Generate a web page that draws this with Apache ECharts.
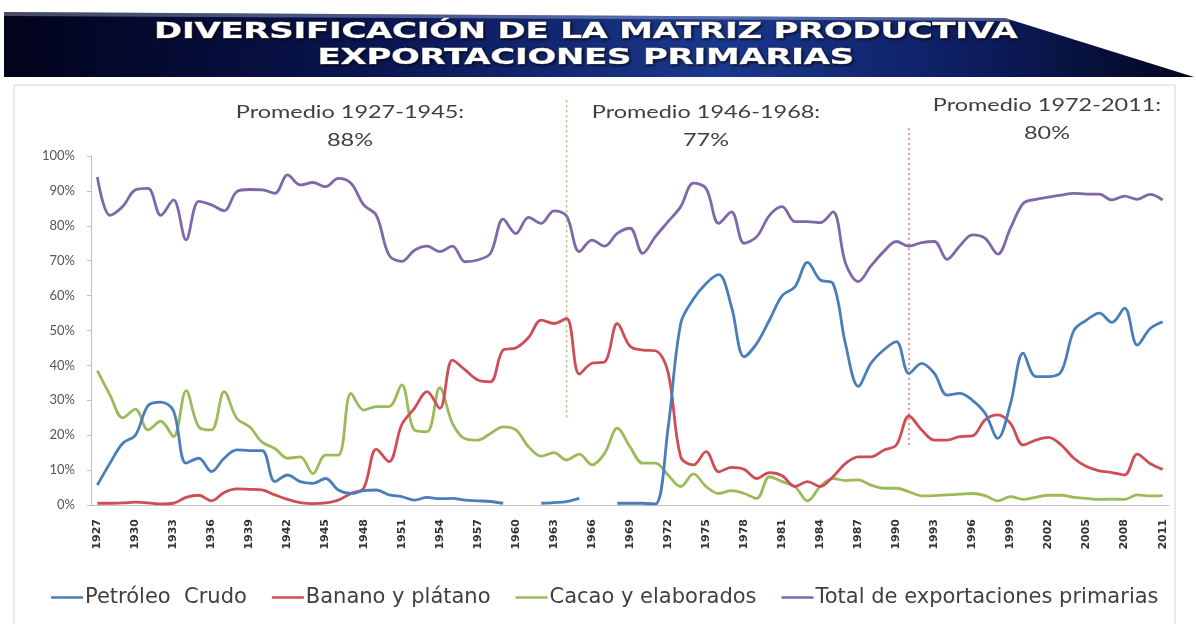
<!DOCTYPE html>
<html>
<head>
<meta charset="utf-8">
<title>Diversificación de la matriz productiva</title>
<script src="https://cdn.jsdelivr.net/npm/echarts@6/dist/echarts.min.js"></script>
<style>
  html, body { margin: 0; padding: 0; background: #fff; }
  #chart { width: 1196px; height: 624px; }
</style>
</head>
<body>
<div id="chart"></div>
<script>
// años (eje de categorías)
const years = [
  '1927','1928','1929','1930','1931','1932','1933','1934','1935','1936','1937','1938','1939','1940',
  '1941','1942','1943','1944','1945','1946','1947','1948','1949','1950','1951','1952','1953','1954',
  '1955','1956','1957','1958','1959','1960','1961','1962','1963','1964','1965','1966','1967','1968',
  '1969','1970','1971','1972','1973','1974','1975','1976','1977','1978','1979','1980','1981','1982',
  '1983','1984','1985','1986','1987','1988','1989','1990','1991','1992','1993','1994','1995','1996',
  '1997','1998','1999','2000','2001','2002','2003','2004','2005','2006','2007','2008','2009','2010','2011'
];

// % de las exportaciones totales
const petroleo = [
  5.7, 12, 17.7, 20, 28.5, 29.5, 27, 12, 13.4, 9.6, 13.4, 15.8, 15.6, 15.6,
  6.7, 8.6, 6.7, 6.2, 7.6, 4.3, 3.3, 4.1, 4.3, 2.9, 2.4, 1.4, 2.2, 1.8,
  1.9, 1.4, 1.2, 1.0, 0.5, null, null, 0.5, 0.7, 1.0, 1.9, null, null, 0.5,
  0.5, 0.5, 0.3, 22, 52, 59, 63.5, 66, 56.8, 42.5, 46.3, 53, 60, 62.5,
  69.5, 64.5, 63.5, 46, 34, 40.6, 44.4, 46.8, 37.7, 40.6, 37.7, 31.5, 32, 30,
  26.3, 19.1, 29, 43.5, 36.8, 36.8, 38.2, 50, 53, 55, 52.3, 56.4, 45.8, 50.5, 52.5
];
const banano = [
  0.5, 0.5, 0.6, 0.8, 0.6, 0.3, 0.5, 2.2, 2.8, 1.2, 3.6, 4.6, 4.5, 4.3,
  2.9, 1.6, 0.7, 0.4, 0.6, 1.4, 3.3, 4.8, 16, 12.4, 23, 27.7, 32.5, 27.7,
  41.5, 38.7, 35.8, 35.3, 44.4, 45, 48, 53, 52, 53.5, 37.5, 40.6, 41, 52,
  45.5, 44.4, 44.2, 38, 13.8, 11.5, 15.3, 9.5, 10.8, 10.2, 7.6, 9.3, 8.4, 5.3,
  6.7, 5.3, 8.1, 11.9, 13.8, 13.8, 15.7, 17.2, 25.5, 21.5, 18.6, 18.6, 19.6, 19.8,
  24.4, 25.8, 23.4, 17.2, 18.6, 19.4, 17.2, 13.4, 11, 9.8, 9.3, 8.6, 14.6, 11.9, 10.2
];
const cacao = [
  38.5, 31.5, 25, 27.5, 21.5, 24, 19.6, 32.8, 22.4, 21.5, 32.5, 24.8, 22.4, 18,
  16.2, 13.4, 13.8, 9, 14.3, 14.3, 32, 27.2, 28.2, 28.2, 34.4, 21.5, 21, 33.6,
  23.4, 19, 18.6, 20.5, 22.4, 21.5, 16.7, 14, 15, 12.9, 14.6, 11.5, 14.8, 22,
  16.7, 12, 12, 8.6, 5.3, 8.9, 5.3, 3.3, 4.1, 3.3, 1.9, 8.1, 6.7, 5.3,
  1.2, 5.3, 7.6, 7, 7.2, 5.7, 4.8, 4.8, 3.8, 2.6, 2.7, 2.9, 3.1, 3.3,
  2.7, 1.2, 2.4, 1.6, 2.2, 2.8, 2.8, 2.2, 1.9, 1.6, 1.7, 1.6, 2.9, 2.6, 2.7
];
const totalPrimarias = [
  94, 83, 85.5, 90.3, 90.7, 83, 87.4, 76, 87, 86, 84.3, 89.8, 90.4, 90.3,
  89.3, 94.6, 91.7, 92.4, 91.2, 93.6, 92.2, 86, 83, 71.6, 69.8, 73, 74.2, 72.6,
  74.2, 69.7, 70.2, 72.1, 81.9, 77.8, 82.4, 80.7, 84.3, 82.8, 72.6, 75.9, 74.2, 77.8,
  79.3, 72.1, 76.9, 81.2, 85.5, 92.2, 90.7, 80.7, 84, 75, 76.9, 83, 85.5, 81.2,
  81.2, 80.9, 84, 69.2, 64, 68.5, 72.6, 75.5, 74.2, 75.2, 75.5, 70.4, 74.2, 77.4,
  76.4, 71.9, 79.3, 86.4, 87.6, 88.2, 88.8, 89.3, 89.1, 89.1, 87.4, 88.5, 87.6, 89, 87.4
];

// promedios por periodo y separadores
const periodos = ['Promedio 1927-1945:', 'Promedio 1946-1968:', 'Promedio 1972-2011:'];
const promedios = ['88%', '77%', '80%'];
const cortes = ['1964', '1991'];

const seriesNames = ['Petróleo  Crudo', 'Banano y plátano', 'Cacao y elaborados', 'Total de exportaciones primarias'];
const colors = ['#4a7ebb', '#cf4d55', '#9bbb59', '#7f68a8'];
const seriesData = [petroleo, banano, cacao, totalPrimarias];

const FONT = 'Lato, "Open Sans", sans-serif';
const WIDE = '"DejaVu Sans", sans-serif';

let chart = echarts.init(document.getElementById('chart'));

const option = {
  animation: false,
  backgroundColor: '#fff',
  color: colors,
  grid: { left: 91, right: 27, top: 156, bottom: 119 },
  xAxis: {
    type: 'category',
    data: years,
    boundaryGap: true,
    axisLine: { lineStyle: { color: '#bfbfbf', width: 1 } },
    axisTick: { interval: 0, length: 4, lineStyle: { color: '#bfbfbf' } },
    axisLabel: {
      interval: 2, rotate: 90, margin: 14,
      color: '#333', fontFamily: WIDE, fontSize: 11, fontWeight: 'bold'
    }
  },
  yAxis: {
    type: 'value',
    min: 0, max: 100, interval: 10,
    axisLine: { show: true, lineStyle: { color: '#bfbfbf' } },
    axisTick: { show: true, length: 4, lineStyle: { color: '#bfbfbf' } },
    splitLine: { show: false },
    axisLabel: { formatter: '{value}%', color: '#555', fontFamily: FONT, fontSize: 13, margin: 16 }
  },
  legend: {
    bottom: 11, left: 46,
    icon: 'rect', itemWidth: 32, itemHeight: 2.5, itemGap: 25,
    textStyle: { color: '#404040', fontFamily: WIDE, fontSize: 21, padding: [0, 0, 0, -3] },
    data: seriesNames
  },
  series: seriesNames.map((name, i) => ({
    name: name,
    type: 'line',
    data: seriesData[i],
    smooth: 0.35,
    symbol: 'none',
    connectNulls: false,
    lineStyle: { width: 2.8, color: colors[i] },
    z: 4 - i
  }))
};
chart.setOption(option);

// decoraciones: banner, textos de promedio y separadores punteados
function buildGraphics() {
  const g = [];
  // marco del área del gráfico
  g.push({
    type: 'rect', silent: true, z: -1,
    shape: { x: 14, y: 85, width: 1161, height: 560 },
    style: { fill: 'none', stroke: '#d4d4d4', lineWidth: 1 }
  });
  // banner del título
  g.push({
    type: 'polygon', silent: true, z: 1,
    shape: { points: [[4, 12], [1005, 18], [1194, 77], [4, 77]] },
    style: {
      fill: new echarts.graphic.LinearGradient(0, 0, 1, 0, [
        { offset: 0, color: '#01031a' },
        { offset: 0.3, color: '#0a1450' },
        { offset: 0.6, color: '#1a3890' },
        { offset: 0.82, color: '#0d1c5e' },
        { offset: 1, color: '#02061c' }
      ])
    }
  });
  g.push({
    type: 'polygon', silent: true, z: 2,
    shape: { points: [[4, 12], [1005, 18], [1012, 21], [4, 16]] },
    style: { fill: 'rgba(200,210,235,0.35)' }
  });
  const titleLines = ['DIVERSIFICACIÓN DE LA MATRIZ PRODUCTIVA', 'EXPORTACIONES PRIMARIAS'];
  titleLines.forEach((t, i) => {
    g.push({
      type: 'text', silent: true, z: 3,
      x: 586, y: 33 + i * 26, scaleX: 1.6,
      style: {
        text: t, x: 0, y: 0,
        align: 'center', verticalAlign: 'middle',
        fill: '#ffffff',
        font: 'bold 21px "DejaVu Sans", sans-serif',
        stroke: '#ffffff', lineWidth: 0.6,
        textShadowColor: 'rgba(0,0,0,0.9)', textShadowBlur: 3, textShadowOffsetX: 1, textShadowOffsetY: 1
      }
    });
  });

  // textos de promedio
  const annX = [350, 706, 1047];
  const annY = [113, 113, 106];
  periodos.forEach((p, i) => {
    g.push({
      type: 'text', silent: true, x: annX[i], y: annY[i], scaleX: 1.38,
      style: { text: p, x: 0, y: 0, align: 'center', verticalAlign: 'middle',
        fill: '#404040', font: '17px ' + FONT }
    });
    g.push({
      type: 'text', silent: true, x: annX[i], y: annY[i] + 28, scaleX: 1.38,
      style: { text: promedios[i], x: 0, y: 0, align: 'center', verticalAlign: 'middle',
        fill: '#404040', font: '17px ' + FONT }
    });
  });

  // separadores punteados (posiciones desde las escalas del gráfico)
  const sepTop = [116, 108];
  const sepBottom = [24.4, 16.3];
  const sepColor = ['#a9b77a', '#e07c86'];
  cortes.forEach((yr, i) => {
    const p1 = chart.convertToPixel({ gridIndex: 0 }, [yr, sepTop[i]]);
    const p2 = chart.convertToPixel({ gridIndex: 0 }, [yr, sepBottom[i]]);
    g.push({
      type: 'line', silent: true, z: 0,
      shape: { x1: p1[0], y1: p1[1], x2: p2[0], y2: p2[1] },
      style: { stroke: sepColor[i], lineWidth: 1.5, lineDash: [2, 3] }
    });
  });
  return g;
}

chart.setOption({ graphic: buildGraphics() });
</script>
</body>
</html>
